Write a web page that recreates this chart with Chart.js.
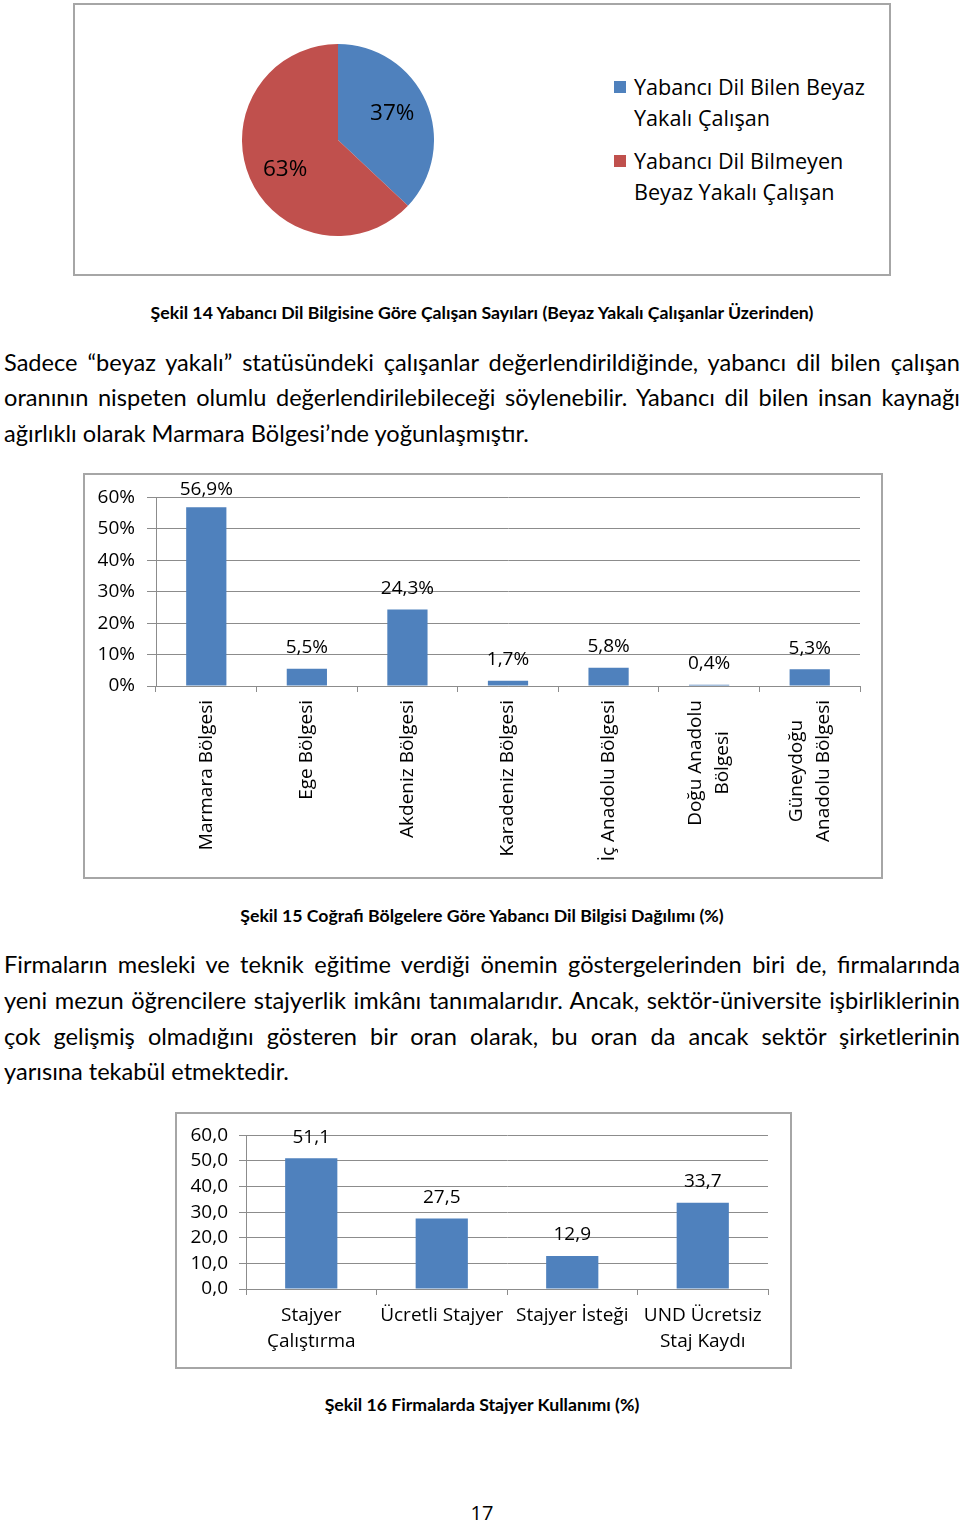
<!DOCTYPE html>
<html>
<head>
<meta charset="utf-8">
<script src="https://cdn.jsdelivr.net/npm/chart.js@4.4.0/dist/chart.umd.min.js"></script>
<style>
body { margin: 0; width: 960px; height: 1523px; position: relative; background: #fff; color: #000; font-family: Lato, sans-serif; overflow: hidden; }
.box { position: absolute; border: 2px solid #a6a6a6; box-sizing: border-box; }
canvas { position: absolute; }
.line { position: absolute; left: 4px; width: 956px; height: 36px; line-height: 36px; font-size: 23.6px; white-space: nowrap; text-align: justify; text-align-last: justify; }
.line.last { text-align: left; text-align-last: left; }
.caption { position: absolute; left: 0; width: 964px; text-align: center; font-weight: bold; font-size: 17.7px; line-height: 20px; }
#legend { position: absolute; left: 614px; top: 71px; font-family: "Open Sans", sans-serif; font-size: 21.6px; line-height: 31px; }
#legend .item { position: relative; padding-left: 20px; margin-bottom: 12px; }
#legend .sw { position: absolute; left: 0; top: 10px; width: 12px; height: 12px; }
#page { position: absolute; left: 0; width: 964px; top: 1500px; text-align: center; font-size: 20px; line-height: 26px; font-family: "Open Sans", sans-serif; }
</style>
</head>
<body>

<div class="box" style="left:73px;top:3px;width:818px;height:273px"></div>
<canvas id="pie" width="192" height="192" style="left:242px;top:44px"></canvas>
<div id="legend"></div>

<div class="caption" style="top:303px">Şekil 14 Yabancı Dil Bilgisine Göre Çalışan Sayıları (Beyaz Yakalı Çalışanlar Üzerinden)</div>

<div class="line" style="top:344px">Sadece “beyaz yakalı” statüsündeki çalışanlar değerlendirildiğinde, yabancı dil bilen çalışan</div>
<div class="line" style="top:379px">oranının nispeten olumlu değerlendirilebileceği söylenebilir. Yabancı dil bilen insan kaynağı</div>
<div class="line last" style="top:415px">ağırlıklı olarak Marmara Bölgesi’nde yoğunlaşmıştır.</div>

<div class="box" style="left:83px;top:473px;width:800px;height:406px"></div>
<canvas id="regions" width="797" height="404" style="left:84px;top:474px"></canvas>

<div class="caption" style="top:906px">Şekil 15 Coğrafi Bölgelere Göre Yabancı Dil Bilgisi Dağılımı (%)</div>

<div class="line" style="top:946px">Firmaların mesleki ve teknik eğitime verdiği önemin göstergelerinden biri de, firmalarında</div>
<div class="line" style="top:982px">yeni mezun öğrencilere stajyerlik imkânı tanımalarıdır. Ancak, sektör-üniversite işbirliklerinin</div>
<div class="line" style="top:1018px">çok gelişmiş olmadığını gösteren bir oran olarak, bu oran da ancak sektör şirketlerinin</div>
<div class="line last" style="top:1053px">yarısına tekabül etmektedir.</div>

<div class="box" style="left:175px;top:1112px;width:617px;height:257px"></div>
<canvas id="interns" width="614" height="254" style="left:176px;top:1113px"></canvas>

<div class="caption" style="top:1395px">Şekil 16 Firmalarda Stajyer Kullanımı (%)</div>

<div id="page">17</div>

<script>
const pieLabels = [['Yabancı Dil Bilen Beyaz', 'Yakalı Çalışan'], ['Yabancı Dil Bilmeyen', 'Beyaz Yakalı Çalışan']];
const pieValues = [37, 63];
const pieColors = ['#4f81bd', '#c0504d'];

const regionLabels = [['Marmara Bölgesi'], ['Ege Bölgesi'], ['Akdeniz Bölgesi'], ['Karadeniz Bölgesi'],
    ['İç Anadolu Bölgesi'], ['Doğu Anadolu', 'Bölgesi'], ['Güneydoğu', 'Anadolu Bölgesi']];
const regionValues = [56.9, 5.5, 24.3, 1.7, 5.8, 0.4, 5.3];
const regionTicks = [0, 10, 20, 30, 40, 50, 60];

const internLabels = [['Stajyer', 'Çalıştırma'], ['Ücretli Stajyer'], ['Stajyer İsteği'], ['UND Ücretsiz', 'Staj Kaydı']];
const internValues = [51.1, 27.5, 12.9, 33.7];
const internTicks = [0, 10, 20, 30, 40, 50, 60];

const BLUE = '#4f81bd';
const GRID = '#8c8c8c';
const FONT = '"Open Sans", sans-serif';

// legend for the pie, built from the labels
const legend = document.getElementById('legend');
pieLabels.forEach((lines, i) => {
    const item = document.createElement('div');
    item.className = 'item';
    item.innerHTML = '<span class="sw" style="background:' + pieColors[i] + '"></span>' + lines.join('<br>');
    legend.appendChild(item);
});

const pieValueLabels = {
    id: 'pieValueLabels',
    afterDatasetsDraw(chart) {
        const ctx = chart.ctx;
        ctx.save();
        ctx.font = '22.5px ' + FONT;
        ctx.fillStyle = '#000';
        ctx.textAlign = 'center';
        ctx.textBaseline = 'middle';
        chart.getDatasetMeta(0).data.forEach((arc, i) => {
            const mid = (arc.startAngle + arc.endAngle) / 2 - (i === 1 ? 0.1 : 0.05);
            const r = arc.outerRadius * 0.63;
            ctx.fillText(pieValues[i] + '%', arc.x + Math.cos(mid) * r, arc.y + Math.sin(mid) * r);
        });
        ctx.restore();
    }
};

function valueLabels(fmt) {
    return {
        id: 'valueLabels',
        afterDatasetsDraw(chart) {
            const ctx = chart.ctx;
            const values = chart.data.datasets[0].data;
            ctx.save();
            ctx.font = '19px ' + FONT;
            ctx.fillStyle = '#000';
            ctx.textAlign = 'center';
            ctx.textBaseline = 'middle';
            chart.getDatasetMeta(0).data.forEach((bar, i) => {
                ctx.fillText(fmt(values[i]), bar.x, Math.max(bar.y - 21, 16));
            });
            ctx.restore();
        }
    };
}

// vertical category labels, lines centred on each other, top end at the axis
const rotatedLabels = {
    id: 'rotatedLabels',
    afterDraw(chart) {
        const ctx = chart.ctx;
        const x = chart.scales.x;
        const lh = 27;
        ctx.save();
        ctx.font = '19px ' + FONT;
        ctx.fillStyle = '#000';
        ctx.textAlign = 'center';
        ctx.textBaseline = 'middle';
        regionLabels.forEach((lines, i) => {
            const w = Math.max(...lines.map(l => ctx.measureText(l).width));
            ctx.save();
            ctx.translate(x.getPixelForValue(i), x.top + 14);
            ctx.rotate(-Math.PI / 2);
            lines.forEach((l, j) => {
                ctx.fillText(l, -w / 2, (j - (lines.length - 1) / 2) * lh);
            });
            ctx.restore();
        });
        ctx.restore();
    }
};

new Chart(document.getElementById('pie'), {
    type: 'pie',
    data: {
        labels: pieLabels,
        datasets: [{ data: pieValues, backgroundColor: pieColors, borderWidth: 0 }]
    },
    options: {
        responsive: false,
        animation: false,
        plugins: { legend: { display: false }, tooltip: { enabled: false } }
    },
    plugins: [pieValueLabels]
});

new Chart(document.getElementById('regions'), {
    type: 'bar',
    data: {
        labels: regionLabels,
        datasets: [{ data: regionValues, backgroundColor: BLUE, barPercentage: 0.4, categoryPercentage: 1 }]
    },
    options: {
        responsive: false,
        animation: false,
        layout: { padding: { top: 23, right: 21, left: 0, bottom: 0 } },
        plugins: { legend: { display: false }, tooltip: { enabled: false } },
        scales: {
            x: {
                ticks: { display: false },
                grid: { drawOnChartArea: false, color: GRID, tickLength: 6 },
                border: { color: GRID },
                afterFit(s) { s.height = 192; }
            },
            y: {
                min: 0, max: 60,
                afterBuildTicks(s) { s.ticks = regionTicks.map(v => ({ value: v })); },
                ticks: { font: { family: FONT, size: 19 }, color: '#000', padding: 12, autoSkip: false, callback: v => v + '%' },
                grid: { color: GRID, tickLength: 9 },
                border: { color: GRID },
                afterFit(s) { s.width = 72; }
            }
        }
    },
    plugins: [valueLabels(v => String(v).replace('.', ',') + '%'), rotatedLabels]
});

new Chart(document.getElementById('interns'), {
    type: 'bar',
    data: {
        labels: internLabels,
        datasets: [{ data: internValues, backgroundColor: BLUE, barPercentage: 0.4, categoryPercentage: 1 }]
    },
    options: {
        responsive: false,
        animation: false,
        layout: { padding: { top: 21, right: 22, left: 0, bottom: 0 } },
        plugins: { legend: { display: false }, tooltip: { enabled: false } },
        scales: {
            x: {
                ticks: { font: { family: FONT, size: 19, lineHeight: 1.37 }, color: '#000', padding: 8, maxRotation: 0, autoSkip: false },
                grid: { drawOnChartArea: false, color: GRID, tickLength: 6 },
                border: { color: GRID },
                afterFit(s) { s.height = 78; }
            },
            y: {
                min: 0, max: 60,
                afterBuildTicks(s) { s.ticks = internTicks.map(v => ({ value: v })); },
                ticks: { font: { family: FONT, size: 19 }, color: '#000', padding: 11, autoSkip: false, callback: v => v.toFixed(1).replace('.', ',') },
                grid: { color: GRID, tickLength: 7 },
                border: { color: GRID },
                afterFit(s) { s.width = 70; }
            }
        }
    },
    plugins: [valueLabels(v => v.toFixed(1).replace('.', ','))]
});
</script>
</body>
</html>
